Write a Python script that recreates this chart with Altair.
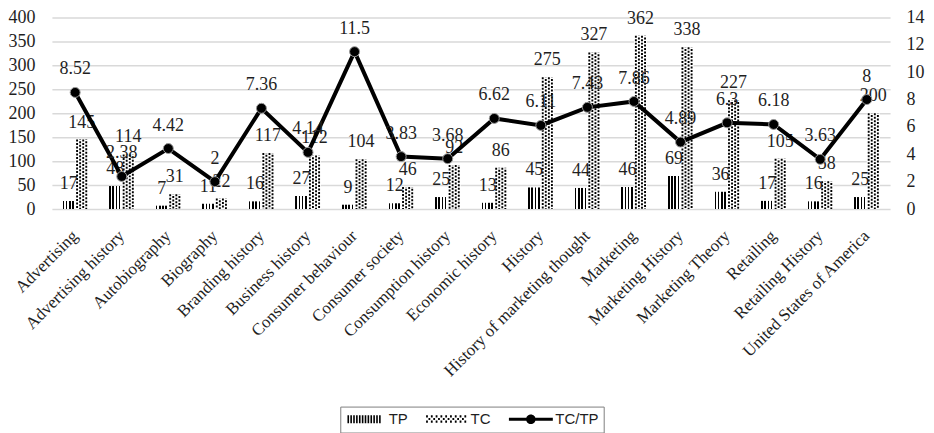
import altair as alt
import pandas as pd

# ---------------- data ----------------
categories = [
    "Advertising", "Advertising history", "Autobiography", "Biography",
    "Branding history", "Business history", "Consumer behaviour",
    "Consumer society", "Consumption history", "Economic history", "History",
    "History of marketing thought", "Marketing", "Marketing History",
    "Marketing Theory", "Retailing", "Retailing History",
    "United States of America",
]
tp = [17, 48, 7, 11, 16, 27, 9, 12, 25, 13, 45, 44, 46, 69, 36, 17, 16, 25]
tc = [145, 114, 31, 22, 117, 112, 104, 46, 92, 86, 275, 327, 362, 338, 227, 105, 58, 200]
ratio = [8.52, 2.38, 4.42, 2, 7.36, 4.14, 11.5, 3.83, 3.68, 6.62, 6.11, 7.43,
         7.86, 4.89, 6.3, 6.18, 3.63, 8]
series = ["TP", "TC", "TC/TP"]
left_ticks = [0, 50, 100, 150, 200, 250, 300, 350, 400]
right_ticks = [0, 2, 4, 6, 8, 10, 12, 14]

df = pd.DataFrame({"cat": categories, "TP": tp, "TC": tc, "ratio": ratio})
leg_df = pd.DataFrame({"s": series})

# ---------------- styles ----------------
SERIF = "'Liberation Serif', 'Times New Roman', serif"
SANS = "'Liberation Sans', Arial, sans-serif"
TXT = "#1f1f1f"
GRID = "#d9d9d9"
BAR_W = 13
HALF = BAR_W / 2

# vertical stripes for TP bars (hard-stop gradient)
stops = [alt.GradientStop(color="white", offset=0)]
for i in range(4):
    a = i * 0.25 + 0.03
    b = a + 0.12
    stops += [
        alt.GradientStop(color="white", offset=a),
        alt.GradientStop(color="black", offset=a),
        alt.GradientStop(color="black", offset=b),
        alt.GradientStop(color="white", offset=b),
    ]
stops.append(alt.GradientStop(color="white", offset=1))
stripe_fill = alt.LinearGradient(gradient="linear", stops=stops, x1=0, x2=1, y1=0, y2=0)

# legend symbol paths (scale: sqrt(64)/2 = 4 px per unit)
p_tp = " ".join(f"M{-4.2 + i*0.72:.3f},-1h0.4v2h-0.4z" for i in range(12))
dots = []
for r, yy in enumerate([-1.0, -0.35, 0.3]):
    for c in range(17):
        if (r + c) % 2 == 0:
            xx = -5.0 + c * 0.6
            dots.append(f"M{xx:.2f},{yy:.2f}h0.45v0.55h-0.45z")
p_tc = " ".join(dots)
p_line = ("M-5.5,-0.38H-1V0.38H-5.5Z M1,-0.38H5.5V0.38H1Z "
          "M1.2,0A1.2,1.2 0 1,1 -1.2,0A1.2,1.2 0 1,1 1.2,0Z")

x_enc = alt.X(
    "cat:N", sort=categories, title=None,
    axis=alt.Axis(labelAngle=-45, labelAlign="right", labelBaseline="middle",
                  labelPadding=24, labelFont=SERIF, labelFontSize=17,
                  labelColor=TXT, labelLimit=400, labelOverlap=False,
                  domain=False, ticks=False, grid=False),
)

yl_scale = alt.Scale(domain=[0, 400], nice=False)
yl_axis = alt.Axis(values=left_ticks, orient="left", labelFont=SERIF,
                   labelFontSize=18, labelColor=TXT, labelPadding=17,
                   domain=False, ticks=False, grid=True, gridColor=GRID,
                   gridWidth=1.5)

base = alt.Chart(df)

tp_bar = base.mark_bar(width=BAR_W, xOffset=-HALF, color=stripe_fill).encode(
    x=x_enc, y=alt.Y("TP:Q", scale=yl_scale, axis=yl_axis, title=None))
tc_bar = base.mark_bar(width=BAR_W, xOffset=HALF, color="white").encode(
    x=x_enc, y=alt.Y("TC:Q", scale=yl_scale, axis=yl_axis, title=None))

tc_rules = []
for k, off in enumerate([-4.6, -1.55, 1.55, 4.6]):
    tc_rules.append(
        base.mark_rule(xOffset=HALF + off, strokeWidth=1.9, strokeDash=[2, 1.5],
                       strokeDashOffset=1.7 * (k % 2), color="black").encode(
            x=x_enc, y=alt.Y("TC:Q", scale=yl_scale, axis=yl_axis, title=None),
            y2=alt.datum(0))
    )

tp_text = base.mark_text(xOffset=-HALF, dy=-12, baseline="alphabetic", font=SERIF,
                         fontSize=18, color=TXT).encode(
    x=x_enc, y=alt.Y("TP:Q", scale=yl_scale, axis=yl_axis, title=None), text="TP:Q")
tc_text = base.mark_text(xOffset=HALF, dy=-12, baseline="alphabetic", font=SERIF,
                         fontSize=18, color=TXT).encode(
    x=x_enc, y=alt.Y("TC:Q", scale=yl_scale, axis=yl_axis, title=None), text="TC:Q")

left = alt.layer(tp_bar, tc_bar, *tc_rules, tp_text, tc_text)

yr = alt.Y("ratio:Q", title=None, scale=alt.Scale(domain=[0, 14], nice=False),
           axis=alt.Axis(orient="right", values=right_ticks, labelFont=SERIF,
                         labelFontSize=18, labelColor=TXT, labelPadding=16,
                         domain=False, ticks=False, grid=False))

line = base.mark_line(color="black", strokeWidth=4).encode(x=x_enc, y=yr)
pts = base.mark_point(filled=True, size=100, color="black", stroke="#9a9a9a",
                      strokeWidth=1, opacity=1).encode(x=x_enc, y=yr)
r_text = base.mark_text(dy=-18, baseline="alphabetic", font=SERIF, fontSize=18,
                        color=TXT).encode(x=x_enc, y=yr, text="ratio:Q")

right = alt.layer(line, pts, r_text)

leg = alt.Chart(leg_df).transform_filter("false").mark_point(
    filled=True, color="black", opacity=1).encode(
    shape=alt.Shape("s:N", scale=alt.Scale(domain=series, range=[p_tp, p_tc, p_line]),
                    legend=alt.Legend(title=None, orient="none", legendX=289,
                                      legendY=390, direction="horizontal",
                                      symbolSize=64, symbolOffset=11.5,
                                      symbolStrokeWidth=0, symbolFillColor="black",
                                      labelOffset=17, labelFont=SANS,
                                      labelFontSize=15, labelColor=TXT,
                                      columnPadding=18, padding=5,
                                      strokeColor="#7f7f7f")))

chart = alt.layer(left, right, leg).resolve_scale(y="independent").properties(
    width=840, height=192,
    padding={"left": 44, "top": 9, "right": 36, "bottom": 224},
    autosize=alt.AutoSizeParams(type="none"),
).configure_view(stroke=None)

chart.save("out.html", embed_options={"renderer": "svg", "actions": False})
